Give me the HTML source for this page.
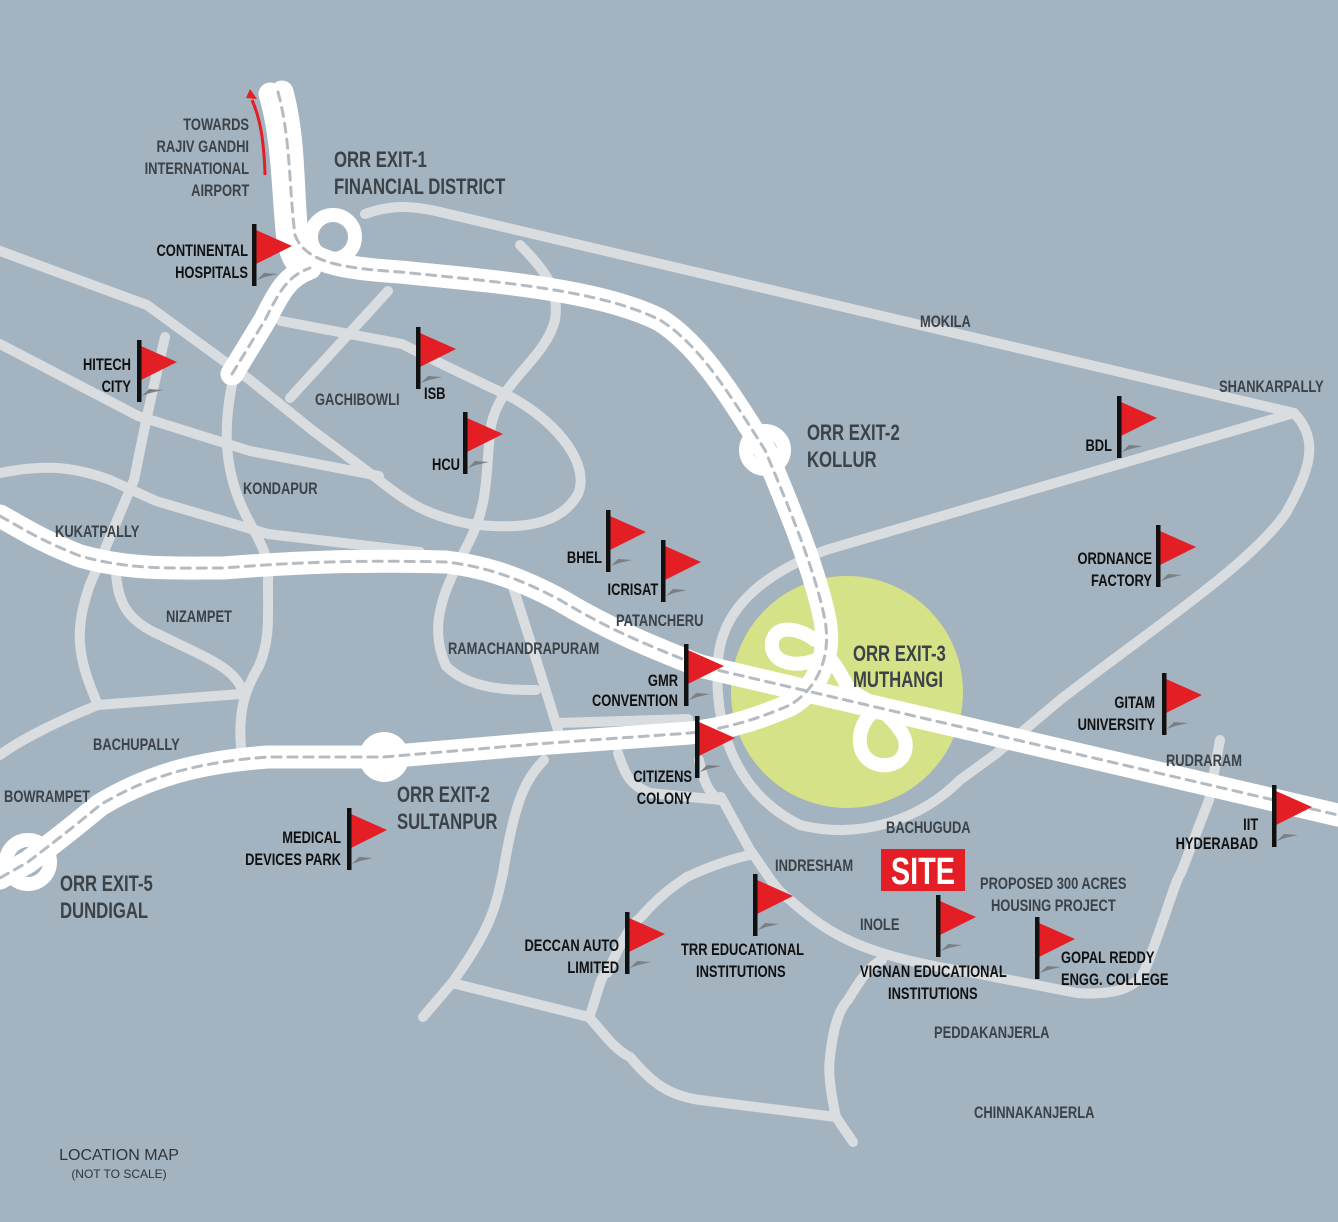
<!DOCTYPE html>
<html><head><meta charset="utf-8">
<style>
html,body{margin:0;padding:0;background:#a3b3bf;}
svg{display:block;}
.t text{font-family:"Liberation Sans Narrow","Liberation Sans",sans-serif;font-weight:bold;font-size:17px;transform-box:fill-box;transform:scaleX(0.76);}
.s text{transform-origin:0% 50%;}
.e text{transform-origin:100% 50%;text-anchor:end;}
.p text,text.p{fill:#3b4248;}
.f text{fill:#111;}
.x text{fill:#3b4248;font-size:22px;}
</style></head><body>
<svg width="1338" height="1222" viewBox="0 0 1338 1222" xmlns="http://www.w3.org/2000/svg">
<rect width="1338" height="1222" fill="#a3b3bf"/>
<defs>
<g id="flag">
<polygon points="5,56 12,49 26,50 13,53" fill="#7a7f84"/>
<polygon points="4,6 40,22 4,40" fill="#e31e24"/>
<rect x="0" y="0" width="4.5" height="62" fill="#111"/>
</g>
</defs>
<circle cx="847" cy="692" r="116" fill="#d5e287"/>
<g fill="none" stroke="#d9dde0" stroke-width="10" stroke-linecap="round" stroke-linejoin="round">
<path d="M365,214 C390,205 410,205 440,212 L1294,413"/>
<path d="M520,245 C545,270 560,290 555,320 C545,360 500,380 491,426 C485,470 490,500 470,540 C450,580 425,620 446,666 C470,690 510,690 536,690"/>
<path d="M1294,413 L826,550 C760,575 722,610 718,660 C714,720 730,790 800,825 C860,840 920,820 960,780 L997,753"/>
<path d="M1294,413 C1320,440 1310,470 1286,513 C1250,565 1150,630 1060,700 L997,753"/>
<path d="M0,251 L147,305 L250,380 L312,430 L379,480 C410,505 430,516 470,524 C520,530 560,526 578,494 C590,465 560,425 513,398 L446,366 L402,344 L281,321"/>
<path d="M0,344 L138,416 L250,451 L379,476"/>
<path d="M0,473 C40,465 70,465 110,480 L156,501 L268,534 L420,552"/>
<path d="M165,337 L147,416 L134,480 L89,587 C75,630 76,655 98,705 L241,694"/>
<path d="M98,705 C60,720 20,740 0,755"/>
<path d="M232,384 C225,420 220,470 250,523 C262,545 270,560 268,580 C268,620 270,640 259,666 C245,690 238,710 241,748"/>
<path d="M116,573 C118,600 125,620 160,635 C200,655 230,665 241,687"/>
<path d="M388,291 L290,398"/>
<path d="M513,587 L536,659 L558,730"/>
<path d="M558,723 L688,719"/>
<path d="M618,753 C625,775 630,785 650,793 L721,800"/>
<path d="M699,760 C705,790 715,800 721,797 L750,850 C765,870 775,890 790,900 C830,935 860,955 974,973 L1077,993 C1120,996 1140,985 1146,967 C1165,920 1175,880 1181,873 L1209,800 L1220,740"/>
<path d="M544,760 C525,780 515,800 503,873 C495,910 490,930 452,983 L423,1017"/>
<path d="M452,983 L589,1017"/>
<path d="M589,1017 C598,995 600,975 607,973 C620,945 630,925 641,917 C660,895 675,885 687,877 C710,866 735,858 750,855"/>
<path d="M589,1017 C605,1035 615,1050 630,1057 C650,1080 665,1095 700,1100 L836,1117 L853,1142"/>
<path d="M836,1117 C830,1090 828,1070 830,1057 C833,1030 838,1010 848,1000 C860,980 870,965 882,960"/>
</g>
<g fill="none" stroke-linecap="round" stroke-linejoin="round">
<g stroke="#ffffff" stroke-width="23">
<path d="M270,94 C284,140 283,200 288,240 C292,258 296,264 305,268"/>
<path d="M282,92 C295,140 292,190 297,235 C305,262 340,268 400,272 C500,282 600,290 660,320 C700,345 730,395 765,450 C790,510 815,570 825,620 C832,660 815,690 790,705 C760,718 730,728 690,733 L536,744 L384,757 L268,757 C200,762 150,775 100,805 C70,830 50,845 28,862 L0,878"/>
<path d="M232,374 L265,320 C280,290 288,276 310,268"/>
<path d="M0,516 C25,530 40,540 80,556 C130,570 170,568 223,568 C300,562 357,560 446,562 C480,566 513,575 560,600 C610,630 647,645 700,666 L1338,815"/>
</g>
<g stroke="#ffffff" stroke-width="14">
<circle cx="333" cy="237" r="22"/>
<circle cx="765" cy="450" r="19"/>
<circle cx="384" cy="757" r="18"/>
<circle cx="28" cy="862" r="22"/>
<path d="M815,640 C795,625 770,625 772,648 C775,665 800,668 820,658 C835,650 845,690 860,705"/>
<path d="M870,715 C855,730 855,760 880,765 C905,768 912,745 900,730 C890,715 870,700 848,690"/>
</g>
<g stroke="#b4bcc2" stroke-width="3" stroke-dasharray="9 7">
<path d="M278,92 C291,140 289,190 295,235 C305,262 340,268 400,272 C500,282 600,290 660,320 C700,345 730,395 765,450 C790,510 815,570 825,620 C832,660 815,690 790,705 C760,718 730,728 690,733 L536,744 L384,757 L268,757 C200,762 150,775 100,805 C70,830 50,845 28,862 L0,878"/>
<path d="M232,374 L265,320 C280,290 288,276 310,268"/>
<path d="M0,516 C25,530 40,540 80,556 C130,570 170,568 223,568 C300,562 357,560 446,562 C480,566 513,575 560,600 C610,630 647,645 700,666 L1338,815"/>
</g>
</g>
<path d="M265,175 C264,140 260,118 252,100" fill="none" stroke="#e31e24" stroke-width="3"/>
<polygon points="246,98 250,89 257,99" fill="#e31e24"/>
<use href="#flag" x="252" y="224"/>
<use href="#flag" x="137" y="340"/>
<use href="#flag" x="416" y="327"/>
<use href="#flag" x="463" y="412"/>
<use href="#flag" x="606" y="510"/>
<use href="#flag" x="661" y="540"/>
<use href="#flag" x="684" y="644"/>
<use href="#flag" x="695" y="716"/>
<use href="#flag" x="347" y="808"/>
<use href="#flag" x="625" y="912"/>
<use href="#flag" x="753" y="874"/>
<use href="#flag" x="936" y="895"/>
<use href="#flag" x="1035" y="917"/>
<use href="#flag" x="1117" y="396"/>
<use href="#flag" x="1156" y="525"/>
<use href="#flag" x="1162" y="673"/>
<use href="#flag" x="1272" y="785"/>
<g class="t e p">
<text x="249" y="130">TOWARDS</text>
<text x="249" y="152">RAJIV GANDHI</text>
<text x="249" y="174">INTERNATIONAL</text>
<text x="249" y="196">AIRPORT</text>
</g>
<g class="t e f">
<text x="248" y="256">CONTINENTAL</text>
<text x="248" y="278">HOSPITALS</text>
<text x="131" y="370">HITECH</text>
<text x="131" y="392">CITY</text>
<text x="460" y="470">HCU</text>
<text x="602" y="563">BHEL</text>
<text x="658" y="595">ICRISAT</text>
<text x="678" y="686">GMR</text>
<text x="678" y="706">CONVENTION</text>
<text x="692" y="782">CITIZENS</text>
<text x="692" y="804">COLONY</text>
<text x="341" y="843">MEDICAL</text>
<text x="341" y="865">DEVICES PARK</text>
<text x="619" y="951">DECCAN AUTO</text>
<text x="619" y="973">LIMITED</text>
<text x="1112" y="451">BDL</text>
<text x="1152" y="564">ORDNANCE</text>
<text x="1152" y="586">FACTORY</text>
<text x="1155" y="708">GITAM</text>
<text x="1155" y="730">UNIVERSITY</text>
<text x="1258" y="830">IIT</text>
<text x="1258" y="849">HYDERABAD</text>
</g>
<g class="t s f">
<text x="424" y="399">ISB</text>
<text x="681" y="955">TRR EDUCATIONAL</text>
<text x="696" y="977">INSTITUTIONS</text>
<text x="860" y="977">VIGNAN EDUCATIONAL</text>
<text x="888" y="999">INSTITUTIONS</text>
<text x="1061" y="963">GOPAL REDDY</text>
<text x="1061" y="985">ENGG. COLLEGE</text>
</g>
<g class="t s p">
<text x="315" y="405">GACHIBOWLI</text>
<text x="243" y="494">KONDAPUR</text>
<text x="55" y="537">KUKATPALLY</text>
<text x="166" y="622">NIZAMPET</text>
<text x="448" y="654">RAMACHANDRAPURAM</text>
<text x="616" y="626">PATANCHERU</text>
<text x="93" y="750">BACHUPALLY</text>
<text x="4" y="802">BOWRAMPET</text>
<text x="920" y="327">MOKILA</text>
<text x="1219" y="392">SHANKARPALLY</text>
<text x="1166" y="766">RUDRARAM</text>
<text x="886" y="833">BACHUGUDA</text>
<text x="775" y="871">INDRESHAM</text>
<text x="860" y="930">INOLE</text>
<text x="980" y="889">PROPOSED 300 ACRES</text>
<text x="991" y="911">HOUSING PROJECT</text>
<text x="934" y="1038">PEDDAKANJERLA</text>
<text x="974" y="1118">CHINNAKANJERLA</text>
</g>
<g class="t s x">
<text x="334" y="167">ORR EXIT-1</text>
<text x="334" y="194">FINANCIAL DISTRICT</text>
<text x="807" y="440">ORR EXIT-2</text>
<text x="807" y="467">KOLLUR</text>
<text x="853" y="661">ORR EXIT-3</text>
<text x="853" y="687">MUTHANGI</text>
<text x="397" y="802">ORR EXIT-2</text>
<text x="397" y="829">SULTANPUR</text>
<text x="60" y="891">ORR EXIT-5</text>
<text x="60" y="918">DUNDIGAL</text>
</g>
<rect x="881" y="849" width="84" height="42" fill="#e31e24"/>
<g class="t"><text x="923" y="884" text-anchor="middle" style="font-size:38px;fill:#fff;transform-origin:50% 50%">SITE</text></g>
<text x="119" y="1160" text-anchor="middle" style="font-family:'Liberation Sans',sans-serif;font-size:16px;fill:#2f353a">LOCATION MAP</text>
<text x="119" y="1178" text-anchor="middle" style="font-family:'Liberation Sans',sans-serif;font-size:12px;fill:#2f353a">(NOT TO SCALE)</text>
</svg>
</body></html>
